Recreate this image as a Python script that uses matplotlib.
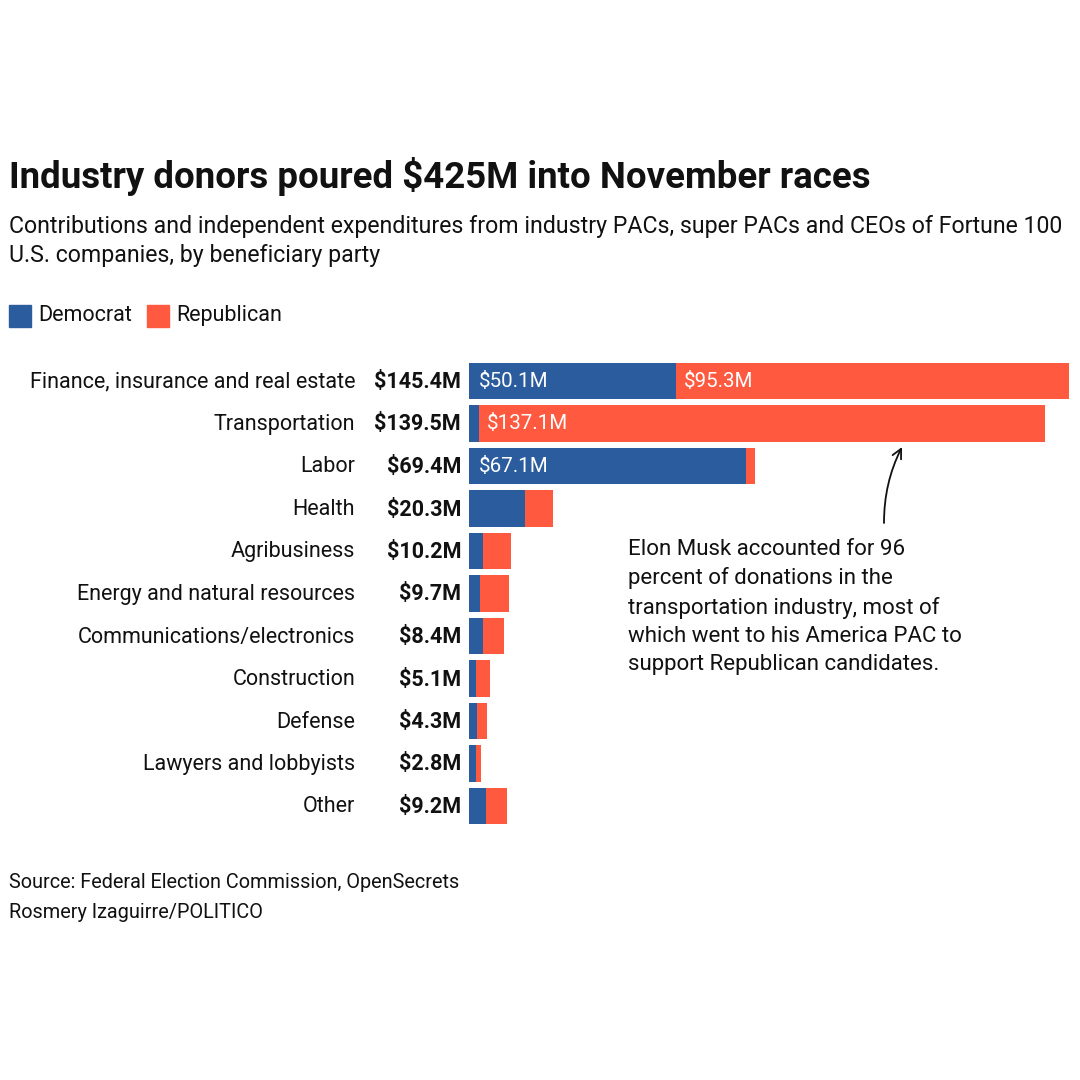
"""Horizontal stacked bars: industry donations by beneficiary party."""

import matplotlib

matplotlib.use("Agg")
from matplotlib import pyplot as plt
from matplotlib.patches import Rectangle

plt.rcParams["font.family"] = ["Roboto", "DejaVu Sans"]

# data, in millions of dollars
industries = [
    "Finance, insurance and real estate",
    "Transportation",
    "Labor",
    "Health",
    "Agribusiness",
    "Energy and natural resources",
    "Communications/electronics",
    "Construction",
    "Defense",
    "Lawyers and lobbyists",
    "Other",
]
totals = [145.4, 139.5, 69.4, 20.3, 10.2, 9.7, 8.4, 5.1, 4.3, 2.8, 9.2]
democrat = [50.1, 2.4, 67.1, 13.6, 3.5, 2.7, 3.5, 1.6, 1.9, 1.6, 4.0]
republican = [round(t - d, 1) for t, d in zip(totals, democrat)]
# which segments get an inside label
dem_labelled = [True, False, True] + [False] * 8
rep_labelled = [True, True] + [False] * 9

dem_colour = "#2B5C9E"
rep_colour = "#FF5A40"
text_colour = "#111111"

W = H = 1080
fig = plt.figure(figsize=(10.8, 10.8), dpi=100)
fig.patch.set_facecolor("white")


def fx(px):
    return px / W


def fy(py):
    return 1 - py / H


# bar area: x 469..1069 px for 0..145.4, rows centred 381..806 px
row_gap = (806 - 381) / 10
ax = fig.add_axes(
    [fx(469), fy(806 + row_gap / 2), fx(600), (11 * row_gap) / H]
)
ax.set_xlim(0, totals[0])
ax.set_ylim(len(industries) - 0.5, -0.5)
ax.axis("off")

ypos = list(range(len(industries)))
ax.barh(ypos, democrat, height=0.85, color=dem_colour, linewidth=0)
ax.barh(ypos, republican, left=democrat, height=0.85, color=rep_colour, linewidth=0)

for i, name in enumerate(industries):
    y = fy(382 + i * row_gap)
    fig.text(fx(355), y, name, ha="right", va="center", fontsize=15.5,
             color=text_colour)
    fig.text(fx(461), y, f"${totals[i]:.1f}M", ha="right", va="center",
             fontsize=15.5, fontweight="bold", color=text_colour)
    if dem_labelled[i]:
        ax.annotate(f"${democrat[i]:.1f}M", (0, i), xytext=(7, 0),
                    textcoords="offset points", ha="left", va="center",
                    fontsize=14.8, color="white")
    if rep_labelled[i]:
        ax.annotate(f"${republican[i]:.1f}M", (democrat[i], i), xytext=(5.5, 0),
                    textcoords="offset points", ha="left", va="center",
                    fontsize=14.8, color="white")

# titles
fig.text(fx(9), fy(176), "Industry donors poured $425M into November races",
         ha="left", va="center", fontsize=26.4, fontweight="bold",
         color=text_colour)
fig.text(fx(9), fy(241),
         "Contributions and independent expenditures from industry PACs, "
         "super PACs and CEOs of Fortune 100\nU.S. companies, by beneficiary party",
         ha="left", va="center", fontsize=16.7, color=text_colour,
         linespacing=1.3)

# legend
for x0, tx, colour, label in [(9, 38, dem_colour, "Democrat"),
                              (147, 176, rep_colour, "Republican")]:
    fig.patches.append(Rectangle((fx(x0), fy(327)), fx(22), 22 / H,
                                 transform=fig.transFigure, color=colour))
    fig.text(fx(tx), fy(316), label, ha="left", va="center",
             fontsize=15.5, color=text_colour)

# annotation
fig.text(fx(628), fy(607),
         "Elon Musk accounted for 96\npercent of donations in the\n"
         "transportation industry, most of\nwhich went to his America PAC to\n"
         "support Republican candidates.",
         ha="left", va="center", fontsize=16, color=text_colour,
         linespacing=1.45)
ax.annotate("", xy=(fx(902), fy(447)), xycoords="figure fraction",
            xytext=(fx(884), fy(523)), textcoords="figure fraction",
            arrowprops=dict(arrowstyle="->", color=text_colour, lw=1.3,
                            mutation_scale=17, shrinkA=0, shrinkB=0,
                            connectionstyle="arc3,rad=-0.12"))

# footer
fig.text(fx(9), fy(882), "Source: Federal Election Commission, OpenSecrets",
         ha="left", va="center", fontsize=14.3, color=text_colour)
fig.text(fx(9), fy(913), "Rosmery Izaguirre/POLITICO",
         ha="left", va="center", fontsize=14.3, color=text_colour)

fig.savefig("out.png", dpi=100, facecolor="white")
